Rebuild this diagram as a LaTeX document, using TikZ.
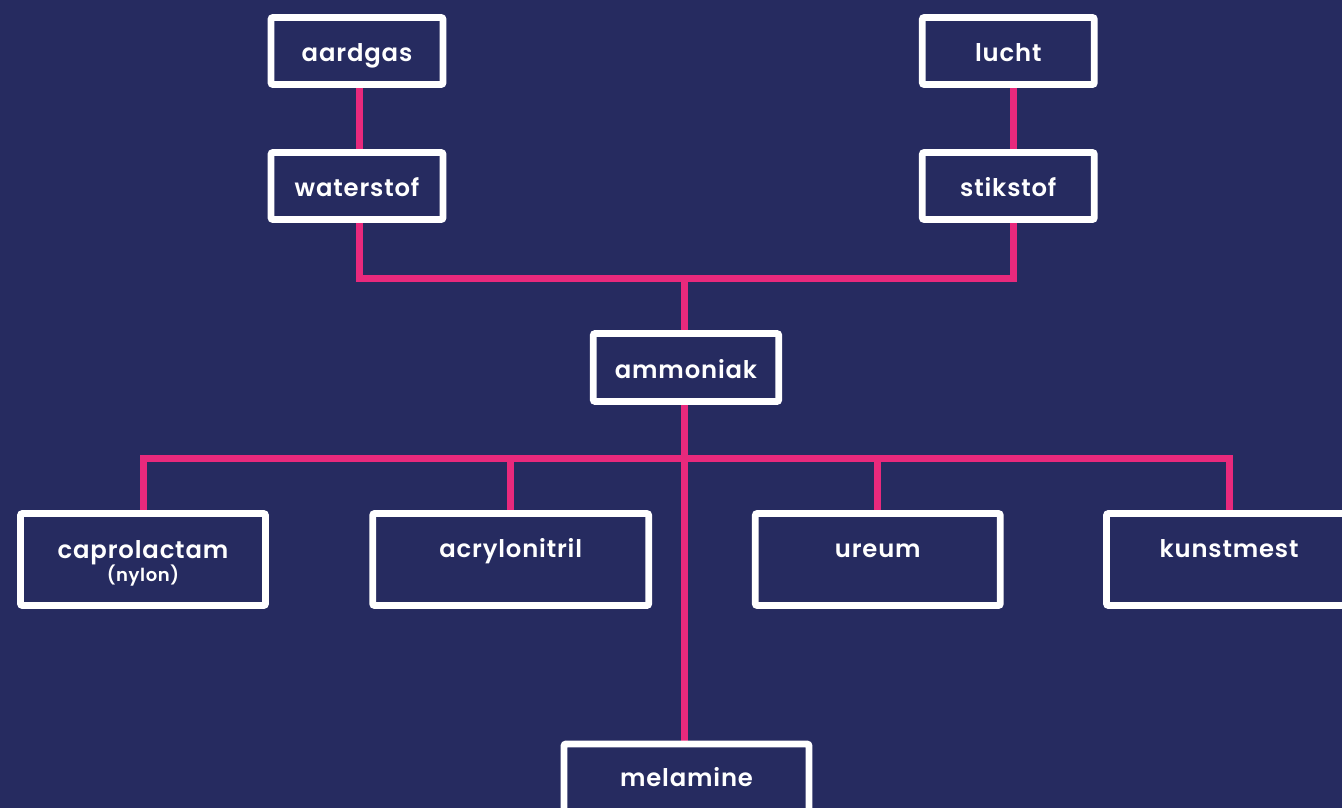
\documentclass[tikz,border=0pt]{standalone}
\usepackage{fontspec}
\setmainfont{Poppins}[BoldFont={* SemiBold}]
\definecolor{navy}{HTML}{262B60}
\definecolor{rose}{HTML}{E8297C}
\pgfdeclarelayer{back}
\pgfdeclarelayer{links}
\pgfsetlayers{back,links,main}
\begin{document}
\begin{tikzpicture}[x=1pt,y=-1pt,
  box/.style={draw=white, line width=6.8pt, fill=navy, rounded corners=2pt, inner sep=0pt},
  smallbox/.style={box, minimum width=172pt, minimum height=67pt},
  widebox/.style={box, minimum width=245pt, minimum height=92pt},
  lbl/.style={text=white, font=\bfseries\fontsize{24.3}{28}\selectfont\addfontfeatures{LetterSpace=3.5}, anchor=base, inner sep=0pt},
  sublbl/.style={text=white, font=\bfseries\fontsize{18}{21}\selectfont\addfontfeatures{LetterSpace=3.5}, anchor=base, inner sep=0pt},
  link/.style={draw=rose, line width=7pt}]
\useasboundingbox (0,0) rectangle (1342,808);
\begin{pgfonlayer}{back}
  \fill[navy] (0,0) rectangle (1342,808);
\end{pgfonlayer}

% raw materials
\node[smallbox] (aardgas)   at (357,51)    {};
\node[smallbox] (waterstof) at (357,186)   {};
\node[smallbox] (lucht)     at (1008.3,51) {};
\node[smallbox] (stikstof)  at (1008.3,186) {};
\node[lbl] (aardgasT)   at (357,61.7)     {aardgas};
\node[lbl] (waterstofT) at (357,196.7)    {waterstof};
\node[lbl] (luchtT)     at (1008.3,61.7)  {lucht};
\node[lbl] (stikstofT)  at (1008.3,196.7) {stikstof};

% ammonia
\node[box, minimum width=185.5pt, minimum height=68pt] (ammoniak) at (686,367.5) {};
\node[lbl] (ammoniakT) at (686,378.3) {ammoniak};

% products
\node[widebox] (capro) at (143,559.5) {};
\node[widebox, minimum width=276pt] (acry) at (510.7,559.5) {};
\node[widebox] (ureum) at (877.8,559.5) {};
\node[widebox] (kunst) at (1229,559.5) {};
\node[widebox] (melamine) at (686.5,790) {};
\node[lbl] (caproT) at (143,558.3)   {caprolactam};
\node[sublbl] (nylonT) at (143,581.5)   {(nylon)};
\node[lbl] (acryT)  at (510.7,557.3) {acrylonitril};
\node[lbl] (ureumT) at (877.8,557.3) {ureum};
\node[lbl] (kunstT) at (1229,557.3)  {kunstmest};
\node[lbl] (melamineT) at (686.5,786.7) {melamine};

% junctions of the connectors
\coordinate (hL) at (359.5,278);
\coordinate (hR) at (1013.5,278);
\coordinate (hC) at (684.5,278);
\coordinate (bC) at (684.5,458.7);

\begin{pgfonlayer}{links}
  \draw[link] (aardgas.south -| hL) -- (waterstof.north -| hL);
  \draw[link] (lucht.south -| hR) -- (stikstof.north -| hR);
  \draw[link] (waterstof.south -| hL) -- (hL) -- (hR) -- (stikstof.south -| hR);
  \draw[link] (hC) -- (ammoniak.north -| hC);
  \draw[link] (ammoniak.south -| bC) -- (melamine.north -| bC);
  \draw[link] (capro.north) |- (bC) -| (kunst.north);
  \draw[link] (acry.north) -- (acry.north |- bC);
  \draw[link] (ureum.north) -- (ureum.north |- bC);
\end{pgfonlayer}
\end{tikzpicture}
\end{document}
